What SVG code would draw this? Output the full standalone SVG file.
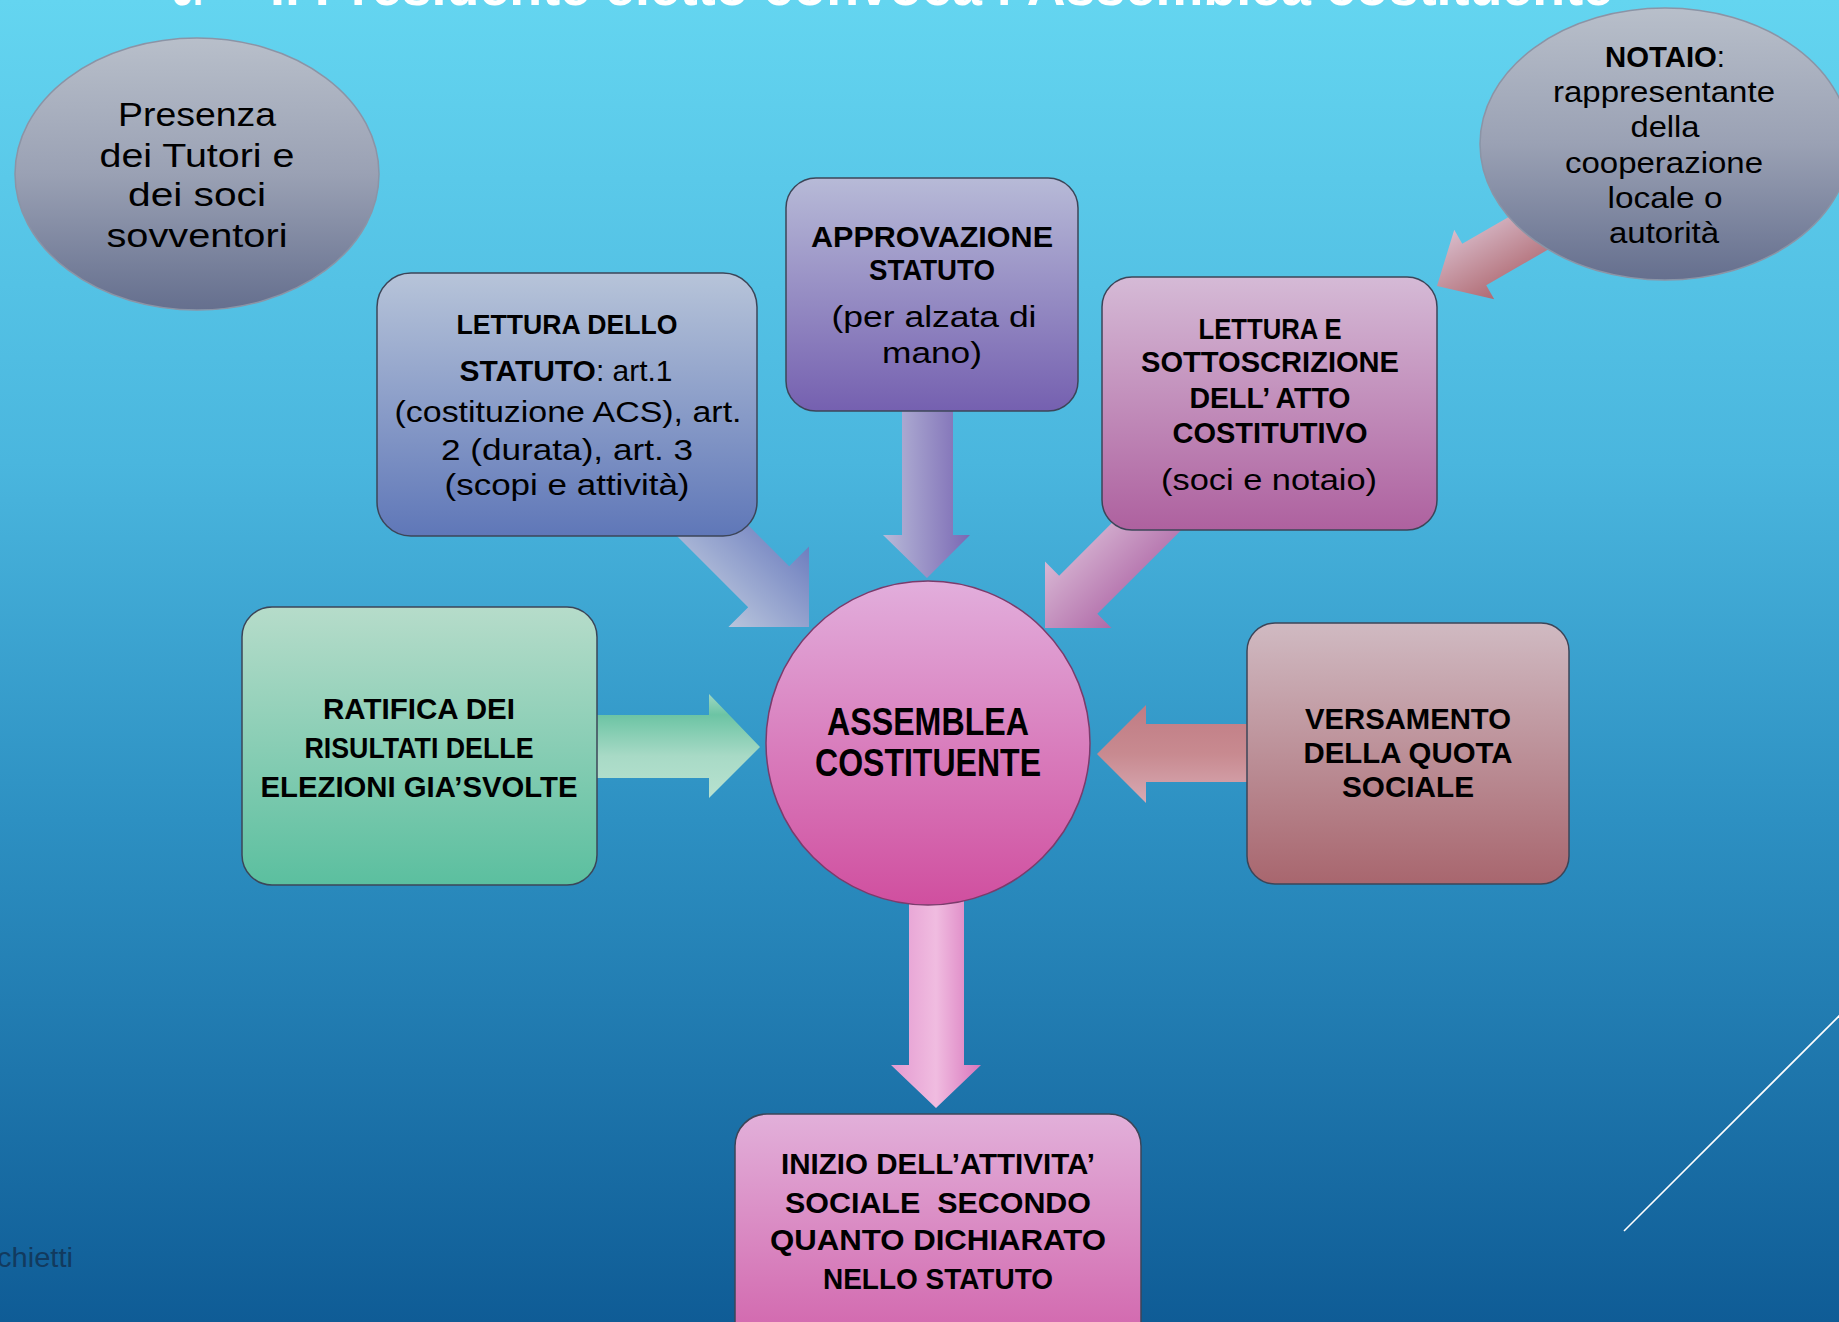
<svg xmlns="http://www.w3.org/2000/svg" width="1839" height="1322" viewBox="0 0 1839 1322">
<style>
.t{font-family:"Liberation Sans",Arial,sans-serif;text-anchor:middle;fill:#000}
.b{font-weight:bold}
.n{font-weight:normal}
.box{stroke:#3c4558;stroke-width:1.5}
.ell{stroke:#8b94a6;stroke-width:1.5}
</style>
<defs>
<linearGradient id="bg" x1="0" y1="0" x2="0" y2="1">
<stop offset="0" stop-color="#64d5f0"/>
<stop offset="0.35" stop-color="#4ab6de"/>
<stop offset="0.62" stop-color="#2d90c2"/>
<stop offset="1" stop-color="#0f5c96"/>
</linearGradient>
<linearGradient id="gGray" x1="0" y1="0" x2="0" y2="1">
<stop offset="0" stop-color="#b8bfca"/>
<stop offset="0.5" stop-color="#9aa1b4"/>
<stop offset="1" stop-color="#656f8e"/>
</linearGradient>
<linearGradient id="gBlue" x1="0" y1="0" x2="0" y2="1">
<stop offset="0" stop-color="#b7c4d9"/>
<stop offset="1" stop-color="#5f77b8"/>
</linearGradient>
<linearGradient id="gPurple" x1="0" y1="0" x2="0" y2="1">
<stop offset="0" stop-color="#b7bad7"/>
<stop offset="1" stop-color="#7560b0"/>
</linearGradient>
<linearGradient id="gMauve" x1="0" y1="0" x2="0" y2="1">
<stop offset="0" stop-color="#d5bad6"/>
<stop offset="1" stop-color="#ae619f"/>
</linearGradient>
<linearGradient id="gGreen" x1="0" y1="0" x2="0" y2="1">
<stop offset="0" stop-color="#b6dcca"/>
<stop offset="1" stop-color="#5bbf9f"/>
</linearGradient>
<linearGradient id="gRose" x1="0" y1="0" x2="0" y2="1">
<stop offset="0" stop-color="#d0bac2"/>
<stop offset="1" stop-color="#a8666e"/>
</linearGradient>
<linearGradient id="gPink" x1="0" y1="0" x2="0" y2="1">
<stop offset="0" stop-color="#e2b0da"/>
<stop offset="1" stop-color="#d05ea8"/>
</linearGradient>
<linearGradient id="gCircle" x1="0" y1="0" x2="0" y2="1">
<stop offset="0" stop-color="#e2aedc"/>
<stop offset="1" stop-color="#d04f9f"/>
</linearGradient>
<linearGradient id="aBlue" x1="0" y1="0" x2="0" y2="1">
<stop offset="0" stop-color="#6d7ebf"/>
<stop offset="1" stop-color="#b9c5dc"/>
</linearGradient>
<linearGradient id="aPurple" x1="0" y1="0" x2="1" y2="0">
<stop offset="0" stop-color="#b8bad8"/>
<stop offset="1" stop-color="#7a68b4"/>
</linearGradient>
<linearGradient id="aMauve" x1="0" y1="0" x2="0" y2="1">
<stop offset="0" stop-color="#b06aa8"/>
<stop offset="1" stop-color="#d8b8d4"/>
</linearGradient>
<linearGradient id="aNotaio" x1="0" y1="0" x2="0" y2="1">
<stop offset="0" stop-color="#b06a72"/>
<stop offset="1" stop-color="#d8bccb"/>
</linearGradient>
<linearGradient id="aGreen" x1="0" y1="0" x2="0" y2="1">
<stop offset="0" stop-color="#a0d8c2"/>
<stop offset="0.2" stop-color="#6cc4a4"/>
<stop offset="0.6" stop-color="#a8dac6"/>
<stop offset="1" stop-color="#b8e2d0"/>
</linearGradient>
<linearGradient id="aRose" x1="0" y1="0" x2="0" y2="1">
<stop offset="0" stop-color="#c07c84"/>
<stop offset="0.5" stop-color="#c88a90"/>
<stop offset="1" stop-color="#d8aab4"/>
</linearGradient>
<linearGradient id="aPink" x1="0" y1="0" x2="1" y2="0">
<stop offset="0" stop-color="#e49ad0"/>
<stop offset="0.5" stop-color="#f0bce0"/>
<stop offset="1" stop-color="#d876bc"/>
</linearGradient>
</defs>

<rect x="0" y="0" width="1839" height="1322" fill="url(#bg)"/>

<text x="172" y="5" font-family="Liberation Sans, Arial, sans-serif" font-weight="bold" font-size="56" fill="#fff" textLength="31" lengthAdjust="spacingAndGlyphs">3.</text>
<text x="270" y="5" font-family="Liberation Sans, Arial, sans-serif" font-weight="bold" font-size="56" fill="#fff" textLength="1343" lengthAdjust="spacingAndGlyphs">Il Presidente eletto convoca l’Assemblea costituente</text>

<line x1="1624" y1="1231" x2="1845" y2="1010" stroke="#ffffff" stroke-width="1.6"/>
<text x="73" y="1267" font-family="Liberation Sans, Arial, sans-serif" font-size="27" fill="#123a5e" text-anchor="end" textLength="76" lengthAdjust="spacingAndGlyphs">chietti</text>

<g id="connectors">
<polygon fill="url(#aNotaio)" transform="translate(1437,286) rotate(150)" points="0,0 -43,-40 -43,-24 -150,-24 -150,24 -43,24 -43,40"/>
<polygon fill="url(#aBlue)" transform="translate(809,627) rotate(45)" points="0,0 -57,-57 -57,-29 -180,-29 -180,29 -57,29 -57,57"/>
<polygon fill="url(#aPurple)" points="902,405 953,405 953,535 970,535 927,578 883,535 902,535"/>
<polygon fill="url(#aMauve)" transform="translate(1045,628) rotate(135)" points="0,0 -47,-47 -47,-27 -170,-27 -170,27 -47,27 -47,47"/>
<polygon fill="url(#aGreen)" points="590,715 709,715 709,694 760,747 709,798 709,778 590,778"/>
<polygon fill="url(#aRose)" points="1255,724 1146,724 1146,705 1097,754 1146,803 1146,782 1255,782"/>
<polygon fill="url(#aPink)" points="909,895 964,895 964,1065 981,1065 936,1108 891,1065 909,1065"/>
</g>

<g id="presenza">
<ellipse class="ell" cx="197" cy="174" rx="182" ry="136" fill="url(#gGray)"/>
<text class="t n" font-size="34" x="197" y="126" textLength="158" lengthAdjust="spacingAndGlyphs">Presenza</text>
<text class="t n" font-size="34" x="197" y="167" textLength="195" lengthAdjust="spacingAndGlyphs">dei Tutori e</text>
<text class="t n" font-size="34" x="197" y="206" textLength="138" lengthAdjust="spacingAndGlyphs">dei soci</text>
<text class="t n" font-size="34" x="197" y="247" textLength="181" lengthAdjust="spacingAndGlyphs">sovventori</text>
</g>

<g id="notaio">
<ellipse class="ell" cx="1665" cy="144" rx="185" ry="136" fill="url(#gGray)"/>
<text class="t" font-size="30" x="1665" y="67" textLength="120" lengthAdjust="spacingAndGlyphs"><tspan class="b">NOTAIO</tspan><tspan class="n">:</tspan></text>
<text class="t n" font-size="30" x="1664" y="102" textLength="222" lengthAdjust="spacingAndGlyphs">rappresentante</text>
<text class="t n" font-size="30" x="1665" y="137" textLength="69" lengthAdjust="spacingAndGlyphs">della</text>
<text class="t n" font-size="30" x="1664" y="173" textLength="198" lengthAdjust="spacingAndGlyphs">cooperazione</text>
<text class="t n" font-size="30" x="1665" y="208" textLength="115" lengthAdjust="spacingAndGlyphs">locale o</text>
<text class="t n" font-size="30" x="1664" y="243" textLength="110" lengthAdjust="spacingAndGlyphs">autorità</text>
</g>

<g id="lettura-statuto">
<rect class="box" x="377" y="273" width="380" height="263" rx="34" fill="url(#gBlue)"/>
<text class="t b" font-size="28" x="567" y="334" textLength="221" lengthAdjust="spacingAndGlyphs">LETTURA DELLO</text>
<text class="t" font-size="29" x="566" y="381" textLength="213" lengthAdjust="spacingAndGlyphs"><tspan class="b">STATUTO</tspan><tspan class="n">: art.1</tspan></text>
<text class="t n" font-size="29" x="568" y="422" textLength="347" lengthAdjust="spacingAndGlyphs">(costituzione ACS), art.</text>
<text class="t n" font-size="29" x="567" y="460" textLength="252" lengthAdjust="spacingAndGlyphs">2 (durata), art. 3</text>
<text class="t n" font-size="29" x="567" y="495" textLength="245" lengthAdjust="spacingAndGlyphs">(scopi e attività)</text>
</g>

<g id="approvazione">
<rect class="box" x="786" y="178" width="292" height="233" rx="30" fill="url(#gPurple)"/>
<text class="t b" font-size="30" x="932" y="247" textLength="242" lengthAdjust="spacingAndGlyphs">APPROVAZIONE</text>
<text class="t b" font-size="30" x="932" y="280" textLength="126" lengthAdjust="spacingAndGlyphs">STATUTO</text>
<text class="t n" font-size="30" x="934" y="327" textLength="205" lengthAdjust="spacingAndGlyphs">(per alzata di</text>
<text class="t n" font-size="30" x="932" y="363" textLength="100" lengthAdjust="spacingAndGlyphs">mano)</text>
</g>

<g id="lettura-atto">
<rect class="box" x="1102" y="277" width="335" height="253" rx="30" fill="url(#gMauve)"/>
<text class="t b" font-size="29" x="1270" y="339" textLength="143" lengthAdjust="spacingAndGlyphs">LETTURA E</text>
<text class="t b" font-size="29" x="1270" y="372" textLength="258" lengthAdjust="spacingAndGlyphs">SOTTOSCRIZIONE</text>
<text class="t b" font-size="29" x="1270" y="408" textLength="161" lengthAdjust="spacingAndGlyphs">DELL’ ATTO</text>
<text class="t b" font-size="29" x="1270" y="443" textLength="195" lengthAdjust="spacingAndGlyphs">COSTITUTIVO</text>
<text class="t n" font-size="30" x="1269" y="490" textLength="216" lengthAdjust="spacingAndGlyphs">(soci e notaio)</text>
</g>

<g id="ratifica">
<rect class="box" x="242" y="607" width="355" height="278" rx="30" fill="url(#gGreen)"/>
<text class="t b" font-size="29" x="419" y="719" textLength="192" lengthAdjust="spacingAndGlyphs">RATIFICA DEI</text>
<text class="t b" font-size="29" x="419" y="758" textLength="229" lengthAdjust="spacingAndGlyphs">RISULTATI DELLE</text>
<text class="t b" font-size="29" x="419" y="797" textLength="317" lengthAdjust="spacingAndGlyphs">ELEZIONI GIA’SVOLTE</text>
</g>

<g id="assemblea">
<circle cx="928" cy="743" r="162" fill="url(#gCircle)" stroke="#7a3c6c" stroke-width="1.5"/>
<text class="t b" font-size="38" x="928" y="735" textLength="202" lengthAdjust="spacingAndGlyphs">ASSEMBLEA</text>
<text class="t b" font-size="38" x="928" y="776" textLength="226" lengthAdjust="spacingAndGlyphs">COSTITUENTE</text>
</g>

<g id="versamento">
<rect class="box" x="1247" y="623" width="322" height="261" rx="28" fill="url(#gRose)"/>
<text class="t b" font-size="30" x="1408" y="729" textLength="206" lengthAdjust="spacingAndGlyphs">VERSAMENTO</text>
<text class="t b" font-size="30" x="1408" y="763" textLength="209" lengthAdjust="spacingAndGlyphs">DELLA QUOTA</text>
<text class="t b" font-size="30" x="1408" y="797" textLength="132" lengthAdjust="spacingAndGlyphs">SOCIALE</text>
</g>

<g id="inizio">
<rect class="box" x="735" y="1114" width="406" height="250" rx="32" fill="url(#gPink)"/>
<text class="t b" font-size="30" x="938" y="1174" textLength="314" lengthAdjust="spacingAndGlyphs">INIZIO DELL’ATTIVITA’</text>
<text class="t b" font-size="30" x="938" y="1213" textLength="306" lengthAdjust="spacingAndGlyphs" xml:space="preserve">SOCIALE  SECONDO</text>
<text class="t b" font-size="30" x="938" y="1250" textLength="336" lengthAdjust="spacingAndGlyphs">QUANTO DICHIARATO</text>
<text class="t b" font-size="30" x="938" y="1289" textLength="230" lengthAdjust="spacingAndGlyphs">NELLO STATUTO</text>
</g>
</svg>
